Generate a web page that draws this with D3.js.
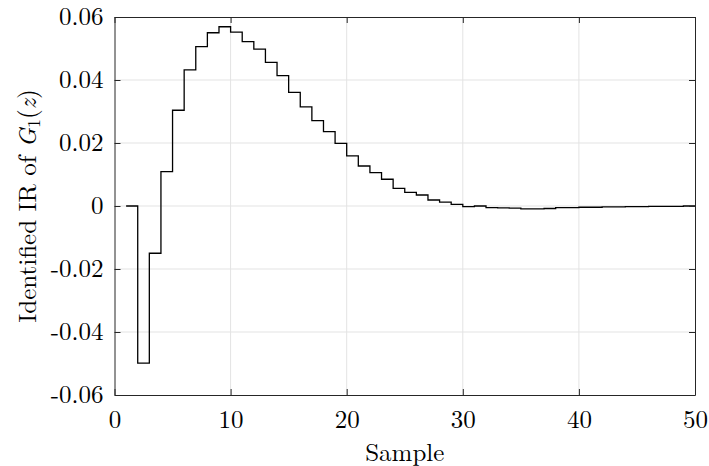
<!DOCTYPE html>
<html><head><meta charset="utf-8">
<script src="https://cdn.jsdelivr.net/npm/d3@7"></script>
<style>body{margin:0;background:#fff}svg{display:block}</style>
</head><body>
<svg id="c" width="709" height="466"></svg>
<script>
const samples = d3.range(1, 51);
const irValues = [
  0.0, -0.0499, -0.0150, 0.0109, 0.0304, 0.0432, 0.0506, 0.0550, 0.0569, 0.0552,
  0.0522, 0.0498, 0.0456, 0.0414, 0.0361, 0.0315, 0.0271, 0.0236, 0.0199, 0.0159,
  0.0127, 0.0106, 0.0085, 0.0056, 0.0043, 0.0035, 0.0019, 0.0012, 0.0005, -0.0002,
  0.0000, -0.0005, -0.0006, -0.0007, -0.0009, -0.0009, -0.0008, -0.0005, -0.0005, -0.0004,
  -0.0004, -0.0003, -0.0003, -0.0002, -0.0002, -0.0001, -0.0001, -0.0001, 0.0000, 0.0000
];
const xTicks = [0, 10, 20, 30, 40, 50];
const yTicks = [-0.06, -0.04, -0.02, 0, 0.02, 0.04, 0.06];
const yTickLabels = ["-0.06", "-0.04", "-0.02", "0", "0.02", "0.04", "0.06"];

const FONT = "'Latin Modern Roman','CMU Serif','Liberation Serif',serif";
const FS = 25;
const L = 114.5, R = 695, T = 17, B = 395;
const svg = d3.select("#c");
const x = d3.scaleLinear().domain([0, 50]).range([L, R]);
const y = d3.scaleLinear().domain([-0.06, 0.06]).range([B, T]);

// grid
const g = svg.append("g");
g.selectAll(".gx").data(xTicks.slice(1, -1)).join("line")
  .attr("x1", d => x(d)).attr("x2", d => x(d)).attr("y1", T).attr("y2", B)
  .attr("stroke", "#e3e3e3").attr("stroke-width", 1);
g.selectAll(".gy").data(yTicks.slice(1, -1)).join("line")
  .attr("y1", d => y(d)).attr("y2", d => y(d)).attr("x1", L).attr("x2", R)
  .attr("stroke", "#e3e3e3").attr("stroke-width", 1);

// line
const line = d3.line().x((d, i) => x(samples[i])).y(d => y(d)).curve(d3.curveStepAfter);
svg.append("path").datum(irValues).attr("d", line)
  .attr("fill", "none").attr("stroke", "#000").attr("stroke-width", 1.3);

// axes
const tl = 6;
const axB = svg.append("g").attr("transform", `translate(0,${B})`)
  .call(d3.axisBottom(x).tickValues(xTicks).tickSizeInner(-tl).tickSizeOuter(0).tickPadding(15));
const axT = svg.append("g").attr("transform", `translate(0,${T})`)
  .call(d3.axisTop(x).tickValues(xTicks).tickSizeInner(-tl).tickSizeOuter(0).tickFormat(""));
const axL = svg.append("g").attr("transform", `translate(${L},0)`)
  .call(d3.axisLeft(y).tickValues(yTicks).tickSizeInner(-tl).tickSizeOuter(0).tickPadding(11)
    .tickFormat((d, i) => yTickLabels[i]));
const axR = svg.append("g").attr("transform", `translate(${R},0)`)
  .call(d3.axisRight(y).tickValues(yTicks).tickSizeInner(-tl).tickSizeOuter(0).tickFormat(""));
[axB, axT, axL, axR].forEach(a => {
  a.selectAll("path,line").attr("stroke", "#262626").attr("stroke-width", 1);
  a.selectAll("text").style("font-family", FONT).style("font-size", FS + "px").attr("fill", "#000");
});
axB.selectAll("text").attr("dy", "0.71em");
axL.selectAll("text").attr("dy", "0.3em");

// labels
svg.append("text").attr("x", (L + R) / 2).attr("y", 461).attr("text-anchor", "middle")
  .style("font-family", FONT).style("font-size", FS + "px").text("Sample");
const yl = svg.append("text").attr("transform", `translate(36,${(T + B) / 2}) rotate(-90)`)
  .attr("text-anchor", "middle").style("font-family", FONT).style("font-size", FS + "px");
yl.append("tspan").text("Identified IR of ");
yl.append("tspan").style("font-style", "italic").text("G");
yl.append("tspan").style("font-size", "18px").attr("dy", 4).text("1");
yl.append("tspan").attr("dy", -4).text("(");
yl.append("tspan").style("font-style", "italic").text("z");
yl.append("tspan").text(")");
</script>
</body></html>
